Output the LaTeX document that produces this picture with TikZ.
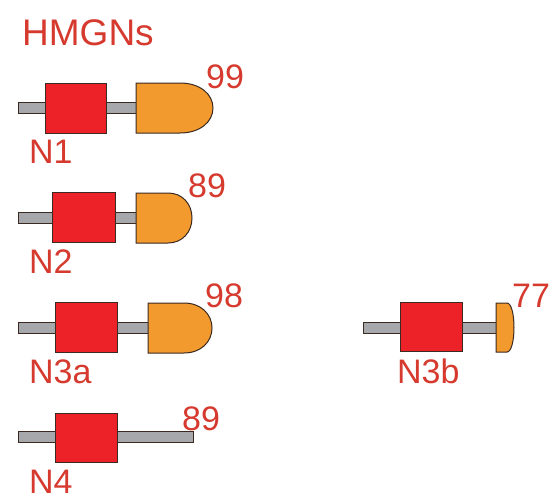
\documentclass[tikz,border=0pt]{standalone}
\usepackage{fontspec}
\setmainfont{Liberation Sans}
\definecolor{labelred}{HTML}{D63A2E}
\definecolor{boxred}{HTML}{EC2228}
\definecolor{tailorange}{HTML}{F29A2E}
\definecolor{rodgray}{HTML}{A6A8AB}
\definecolor{edge}{HTML}{3A2A22}
\tikzset{
  lbl/.style={anchor=base west, inner sep=0pt, text=labelred, font=\fontsize{34}{34}\selectfont},
  rod/.style={fill=rodgray, draw=edge, line width=0.9pt},
  nbd/.style={fill=boxred, draw=edge, line width=1pt},
  tail/.style={fill=tailorange, draw=edge, line width=1pt},
}
% rod: left, right, centre y
\newcommand{\rodbar}[3]{\path[rod] (#1,#3-5.5) rectangle (#2,#3+5.5);}
% nucleosome-binding box: left, right, top, bottom
\newcommand{\nbdbox}[4]{\path[nbd] (#1,#3) rectangle (#2,#4);}
% rounded acidic tail: left, start of curve, tip, top, bottom
\newcommand{\acidtail}[5]{%
  \path[tail] (#1,#4) -- (#2,#4)
    .. controls ({#2+0.6*(#3-#2)},#4) and (#3,{#4+0.22*(#5-#4)}) .. (#3,{0.5*(#4+#5)})
    .. controls (#3,{#5-0.22*(#5-#4)}) and ({#2+0.6*(#3-#2)},#5) .. (#2,#5)
    -- (#1,#5) -- cycle;}
\begin{document}
\begin{tikzpicture}[x=1pt,y=-1pt]
\useasboundingbox (0,0) rectangle (558,504);

\node[lbl, font=\fontsize{37}{37}\selectfont] (title) at (22,45) {HMGNs};

% N1
\rodbar{18}{140}{108}
\nbdbox{45}{106}{83}{133}
\acidtail{136}{180}{213}{83}{133}
\node[lbl] (n1) at (29,163) {N1};
\node[lbl] (n1end) at (206,88) {99};

% N2
\rodbar{18}{140}{218}
\nbdbox{52}{115}{192}{242}
\acidtail{136}{168}{192}{193}{243}
\node[lbl] (n2) at (29,273) {N2};
\node[lbl] (n2end) at (188,197) {89};

% N3a
\rodbar{18}{150}{328}
\nbdbox{55}{117}{302}{352}
\acidtail{148}{184}{212}{303}{353}
\node[lbl] (n3a) at (29,383) {N3a};
\node[lbl] (n3aend) at (205,307) {98};

% N4
\rodbar{18}{193}{437}
\nbdbox{55}{117}{413}{462}
\node[lbl] (n4) at (29,493) {N4};
\node[lbl] (n4end) at (182,430) {89};

% N3b
\rodbar{363}{499}{328}
\nbdbox{400}{462}{302}{351}
\acidtail{496}{507}{514}{303}{352}
\node[lbl] (n3b) at (397,383) {N3b};
\node[lbl] (n3bend) at (512,307) {77};
\end{tikzpicture}
\end{document}
